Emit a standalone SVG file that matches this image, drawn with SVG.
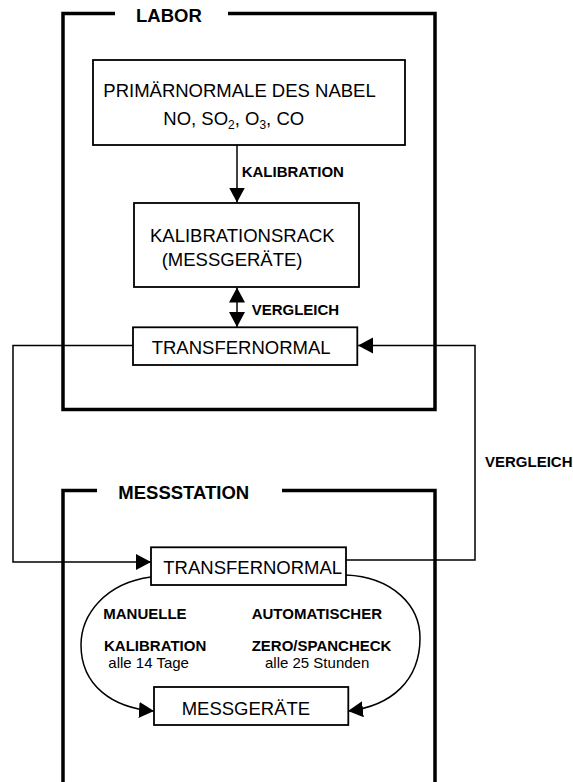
<svg xmlns="http://www.w3.org/2000/svg" width="573" height="782" viewBox="0 0 573 782">
<style>
text{font-family:"Liberation Sans",Arial,Helvetica,sans-serif;fill:#000}
.hdr{font-size:18.5px;font-weight:bold}
.node{font-size:18.5px}
.lbl{font-size:15px;font-weight:bold}
.sm{font-size:15px}
.frame{fill:none;stroke:#000;stroke-width:3.5}
.box{fill:#fff;stroke:#000;stroke-width:1.8}
.con{fill:none;stroke:#000;stroke-width:1.5}
</style>
<defs>
<marker id="ah" markerUnits="userSpaceOnUse" markerWidth="16" markerHeight="17" refX="15" refY="8" orient="auto-start-reverse" viewBox="0 0 16 17">
<path d="M0,0 L15,8 L0,16 Z" fill="#000"/>
</marker>
</defs>
<g id="labor">
<path class="frame" d="M115,13.5 H63 V409.5 H435 V13.5 H228"/>
<text class="hdr" x="136" y="21.7">LABOR</text>
</g>
<g id="messstation">
<path class="frame" d="M97,490.5 H63 V790 M282,490.5 H435 V790"/>
<text class="hdr" x="118.3" y="499">MESSSTATION</text>
</g>
<g id="connectors">
<line class="con" x1="237" y1="145" x2="237" y2="202.5" marker-end="url(#ah)"/>
<line class="con" x1="237" y1="287.5" x2="237" y2="327" marker-start="url(#ah)" marker-end="url(#ah)"/>
<polyline class="con" points="133,345.5 13,345.5 13,562 151,562" marker-end="url(#ah)"/>
<polyline class="con" points="346,560 475,560 475,345.5 358,345.5" marker-end="url(#ah)"/>
<path class="con" d="M151,577 C105,583 81,615 81,645 C81,685 112,708 154,711" marker-end="url(#ah)"/>
<path class="con" d="M346,575 C392,577 420,605 420,638 C420,680 392,706 348,711" marker-end="url(#ah)"/>
</g>
<g id="primaernormale">
<rect class="box" x="93" y="60" width="312" height="85"/>
<text class="node" x="103.3" y="97.3">PRIMÄRNORMALE DES NABEL</text>
<text class="node" x="163.3" y="125">NO, SO<tspan font-size="12" dy="4">2</tspan><tspan dy="-4">, O</tspan><tspan font-size="12" dy="4">3</tspan><tspan dy="-4">, CO</tspan></text>
</g>
<g id="kalibrationsrack">
<rect class="box" x="134" y="203" width="225" height="84"/>
<text class="node" x="150" y="241.7">KALIBRATIONSRACK</text>
<text class="node" x="161.7" y="266">(MESSGERÄTE)</text>
</g>
<g id="transfernormal-labor">
<rect class="box" x="133" y="327.3" width="224.3" height="37.7"/>
<text class="node" x="151.7" y="354">TRANSFERNORMAL</text>
</g>
<g id="transfernormal-station">
<rect class="box" x="151" y="547.3" width="195" height="37.7"/>
<text class="node" x="163.3" y="574.3">TRANSFERNORMAL</text>
</g>
<g id="messgeraete">
<rect class="box" x="154" y="687" width="194.3" height="38"/>
<text class="node" x="181.7" y="715">MESSGERÄTE</text>
</g>
<g id="labels">
<text class="lbl" x="241.7" y="177.3">KALIBRATION</text>
<text class="lbl" x="251.7" y="315">VERGLEICH</text>
<text class="lbl" x="485" y="466.7">VERGLEICH</text>
<text class="lbl" x="103.3" y="619">MANUELLE</text>
<text class="lbl" x="104" y="650.7">KALIBRATION</text>
<text class="sm" x="108.3" y="668.3">alle 14 Tage</text>
<text class="lbl" x="251.7" y="619">AUTOMATISCHER</text>
<text class="lbl" x="251.7" y="650.7">ZERO/SPANCHECK</text>
<text class="sm" x="265" y="668.3">alle 25 Stunden</text>
</g>
</svg>
